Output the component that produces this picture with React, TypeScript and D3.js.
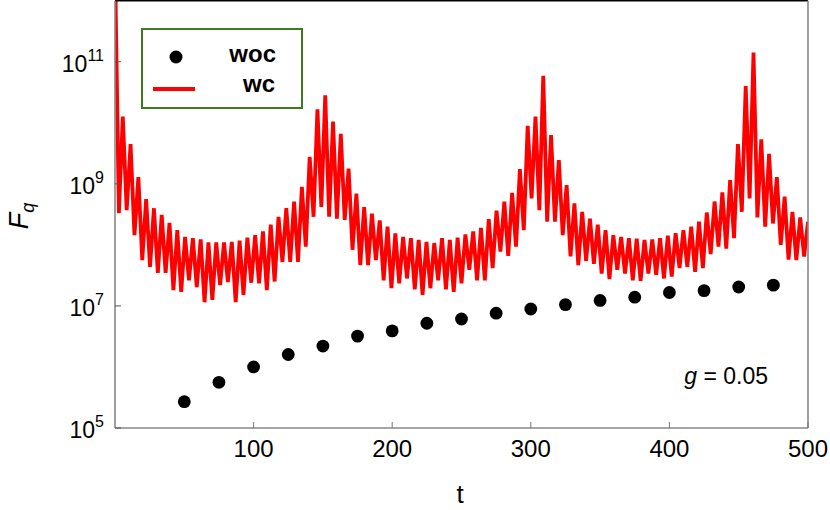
import React from "react";
import * as d3 from "d3";

// ---- data ----
const xTicks = [100, 200, 300, 400, 500];
const yTickExponents = [5, 7, 9, 11];

// "woc" series (black dots)
const wocTimes = [50, 75, 100, 125, 150, 175, 200, 225, 250, 275, 300, 325, 350, 375, 400, 425, 450, 475];
const wocValues = [2.7e5, 5.6e5, 1.0e6, 1.6e6, 2.2e6, 3.2e6, 3.9e6, 5.2e6, 6.1e6, 7.6e6, 8.9e6, 1.05e7, 1.23e7, 1.39e7, 1.66e7, 1.78e7, 2.04e7, 2.19e7];

// "wc" series (red line) — log10 of F_q, sampled uniformly over t = 0..500
const wcTimeStep = 500 / 178;
const wcExponent = [
  12.6, 8.52, 10.1, 8.57, 9.65, 8.16, 9.11, 7.75, 8.75, 7.64,
  8.6, 7.54, 8.49, 7.54, 8.36, 7.26, 8.24, 7.23, 8.13, 7.42,
  8.11, 7.31, 8.09, 7.06, 8.04, 7.1, 8.04, 7.34, 8.04, 7.39,
  8.05, 7.06, 8.07, 7.18, 8.12, 7.38, 8.16, 7.37, 8.22, 7.26,
  8.33, 7.4, 8.46, 7.72, 8.6, 7.72, 8.71, 7.72, 8.95, 7.97,
  9.44, 8.46, 10.22, 8.62, 10.45, 8.46, 10.02, 8.43, 9.82, 8.41,
  9.25, 7.92, 8.84, 7.67, 8.62, 7.67, 8.51, 7.75, 8.4, 7.42,
  8.3, 7.29, 8.19, 7.37, 8.13, 7.45, 8.11, 7.27, 8.08, 7.18,
  8.05, 7.29, 8.03, 7.42, 8.11, 7.27, 8.08, 7.23, 8.12, 7.37,
  8.17, 7.59, 8.22, 7.42, 8.28, 7.42, 8.42, 7.62, 8.56, 7.89,
  8.71, 7.82, 8.85, 7.97, 9.24, 8.24, 9.95, 8.76, 10.1, 8.57,
  10.77, 8.38, 9.8, 8.38, 9.39, 8.16, 8.98, 7.81, 8.68, 7.67,
  8.54, 7.74, 8.43, 7.69, 8.33, 7.53, 8.24, 7.44, 8.16, 7.59,
  8.13, 7.53, 8.11, 7.42, 8.1, 7.41, 8.08, 7.53, 8.09, 7.51,
  8.11, 7.45, 8.15, 7.48, 8.19, 7.62, 8.24, 7.64, 8.3, 7.56,
  8.38, 7.62, 8.53, 7.85, 8.71, 7.97, 8.86, 7.94, 9.06, 8.11,
  9.65, 8.54, 10.6, 8.76, 11.15, 8.45, 9.73, 8.3, 9.49, 8.35,
  9.11, 8.0, 8.79, 7.76, 8.54, 7.75, 8.45, 7.81, 8.38,
];
const wcValues = wcExponent.map((e) => Math.pow(10, e));

const FONT = "'Liberation Sans', Arial, Helvetica, sans-serif";

export default function App() {
  const W = 830;
  const H = 510;
  const left = 115;
  const right = 808;
  const top = 0.7;
  const bottom = 428;

  const x = d3.scaleLinear().domain([0, 500]).range([left, right]);
  const y = d3.scaleLog().domain([1e5, 1e12]).range([bottom, top]);

  const wcLine = d3
    .line<number>()
    .x((_, i) => x(i * wcTimeStep))
    .y((d) => y(d));

  return (
    <svg
      width={W}
      height={H}
      viewBox={`0 0 ${W} ${H}`}
      style={{ position: "absolute", left: 0, top: 0, background: "#fff" }}
      fontFamily={FONT}
    >
      <defs>
        <clipPath id="plotClip">
          <rect x={left} y={top} width={right - left} height={bottom - top} />
        </clipPath>
      </defs>
      <rect x={0} y={0} width={W} height={H} fill="#fff" />

      {/* wc line */}
      <path
        d={wcLine(wcValues) || ""}
        fill="none"
        stroke="#ff0000"
        strokeWidth={3.8}
        strokeLinejoin="miter"
        strokeMiterlimit={5}
        clipPath="url(#plotClip)"
      />

      {/* woc dots */}
      {wocTimes.map((t, i) => (
        <circle key={t} cx={x(t)} cy={y(wocValues[i])} r={6.4} fill="#000" />
      ))}

      {/* frame */}
      <line x1={left} y1={top} x2={right} y2={top} stroke="#000" strokeWidth={1.6} />
      <line x1={left} y1={top} x2={left} y2={bottom} stroke="#888" strokeWidth={1.6} />
      <line x1={right} y1={top} x2={right} y2={bottom} stroke="#888" strokeWidth={1.6} />
      <line x1={left} y1={bottom} x2={right} y2={bottom} stroke="#888" strokeWidth={1.6} />

      {/* x ticks */}
      {xTicks.map((t) => (
        <g key={t}>
          <line x1={x(t)} x2={x(t)} y1={bottom} y2={bottom - 6} stroke="#777" strokeWidth={1} />
          <text x={x(t)} y={457} textAnchor="middle" fontSize={24} fill="#000">
            {t}
          </text>
        </g>
      ))}

      {/* y ticks */}
      {yTickExponents.map((e) => (
        <g key={e}>
          <line x1={left} x2={left + 6} y1={y(Math.pow(10, e))} y2={y(Math.pow(10, e))} stroke="#555" strokeWidth={1} />
          <text x={104} y={y(Math.pow(10, e)) + 10} textAnchor="end" fill="#000" fontSize={23}>
            <tspan>10</tspan>
            <tspan dy={-11} fontSize={16}>
              {e}
            </tspan>
          </text>
        </g>
      ))}

      {/* axis titles */}
      <text x={460} y={503} textAnchor="middle" fontSize={26} fill="#000">
        t
      </text>
      <text transform="translate(28,216) rotate(-90)" textAnchor="middle" fontSize={27} fill="#000">
        <tspan fontStyle="italic">F</tspan>
        <tspan fontStyle="italic" fontSize={18} dy={6}>
          q
        </tspan>
      </text>

      {/* annotation */}
      <text x={768} y={384} textAnchor="end" fontSize={23} fill="#000">
        <tspan fontStyle="italic">g</tspan>
        <tspan> = 0.05</tspan>
      </text>

      {/* legend */}
      <rect x={142} y={29} width={160} height={79} fill="#fff" stroke="#3f7a1f" strokeWidth={2} />
      <circle cx={176} cy={57} r={6.5} fill="#000" />
      <line x1={153} x2={195} y1={89} y2={89} stroke="#ff0000" strokeWidth={4} />
      <text x={276} y={62} textAnchor="end" fontSize={24} fontWeight="bold" fill="#000">
        woc
      </text>
      <text x={275} y={92} textAnchor="end" fontSize={24} fontWeight="bold" fill="#000">
        wc
      </text>
    </svg>
  );
}
